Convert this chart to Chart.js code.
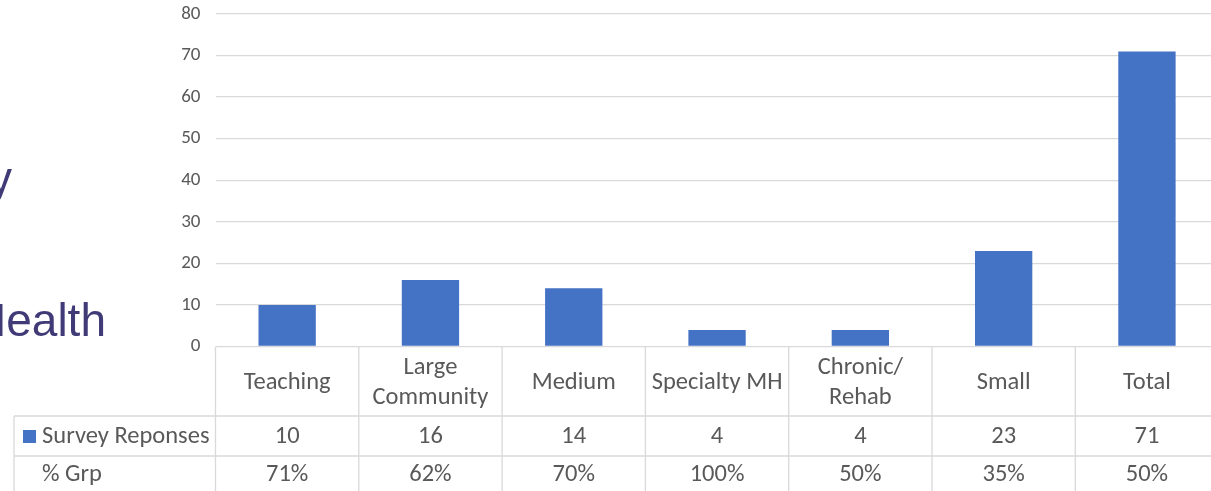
<!DOCTYPE html>
<html>
<head>
<meta charset="utf-8">
<script src="https://cdn.jsdelivr.net/npm/chart.js@4/dist/chart.umd.min.js"></script>
<style>
  html, body { margin: 0; padding: 0; background: #fff; overflow: hidden; }
  #wrap { position: relative; width: 1220px; height: 491px; }
</style>
</head>
<body>
<div id="wrap"><canvas id="surveyChart"></canvas></div>
<script>
const categories = ['Teaching', ['Large', 'Community'], 'Medium', 'Specialty MH', ['Chronic/', 'Rehab'], 'Small', 'Total'];
const surveyResponses = [10, 16, 14, 4, 4, 23, 71];
const pctGroup = ['71%', '62%', '70%', '100%', '50%', '35%', '50%'];
const seriesName = 'Survey Reponses';
const pctRowName = '% Grp';

const textFont = 'Carlito, Calibri, Lato, sans-serif';
const barColor = '#4472C4';
const inkColor = '#595959';
const lineColor = '#d9d9d9';

// bits of slide heading text sitting left of the chart
const slideText = {
  id: 'slideText',
  afterDraw(chart) {
    const ctx = chart.ctx;
    ctx.save();
    ctx.fillStyle = '#403A77';
    ctx.font = '46px "Liberation Sans", Arial, sans-serif';
    ctx.textBaseline = 'alphabetic';
    ctx.textAlign = 'left';
    ctx.fillText('y', -11, 194);
    ctx.fillText('Health', -27, 336);
    ctx.restore();
  }
};

// data table under the plot: category row, values row, percentage row
const dataTable = {
  id: 'dataTable',
  afterDraw(chart) {
    const { ctx, chartArea } = chart;
    const x = chart.scales.x;
    const n = categories.length;
    const colW = (chartArea.right - chartArea.left) / n;
    const top = chartArea.bottom;
    const row1 = 416, row2 = 456, bottom = 500;
    const legendLeft = 14;

    ctx.save();
    ctx.strokeStyle = lineColor;
    ctx.lineWidth = 1.3;
    ctx.beginPath();
    for (let i = 0; i <= n; i++) {
      const xx = chartArea.left + i * colW;
      ctx.moveTo(xx, top);
      ctx.lineTo(xx, bottom);
    }
    ctx.moveTo(legendLeft, row1);
    ctx.lineTo(legendLeft, bottom);
    ctx.moveTo(legendLeft, row1);
    ctx.lineTo(chartArea.right, row1);
    ctx.moveTo(legendLeft, row2);
    ctx.lineTo(chartArea.right, row2);
    ctx.stroke();

    ctx.fillStyle = inkColor;
    ctx.font = '24.5px ' + textFont;
    ctx.textAlign = 'center';
    ctx.textBaseline = 'middle';
    categories.forEach((c, i) => {
      const cx = x.getPixelForValue(i);
      const lines = Array.isArray(c) ? c : [c];
      const lh = 30;
      const y0 = (top + row1) / 2 + 1.5 - (lines.length - 1) * lh / 2;
      lines.forEach((ln, j) => ctx.fillText(ln, cx, y0 + j * lh));
      ctx.fillText(String(surveyResponses[i]), cx, (row1 + row2) / 2 + 0.5);
      ctx.fillText(pctGroup[i], cx, 474.5);
    });

    ctx.textAlign = 'left';
    ctx.fillText(seriesName, 42, (row1 + row2) / 2 + 0.5);
    ctx.fillText(pctRowName, 42, 474.5);
    ctx.fillStyle = barColor;
    ctx.fillRect(23, 430, 13, 13);
    ctx.restore();
  }
};

new Chart(document.getElementById('surveyChart'), {
  type: 'bar',
  data: {
    labels: categories,
    datasets: [{
      label: seriesName,
      data: surveyResponses,
      backgroundColor: barColor,
      borderWidth: 0,
      barPercentage: 0.4,
      categoryPercentage: 1.0
    }]
  },
  options: {
    responsive: true,
    maintainAspectRatio: false,
    animation: false,
    layout: { padding: { top: 14, bottom: 144.5, left: 0, right: 1.4 } },
    plugins: {
      legend: { display: false },
      tooltip: { enabled: false }
    },
    scales: {
      x: { display: false },
      y: {
        min: 0,
        max: 80,
        ticks: { stepSize: 10, padding: 15, color: inkColor, font: { family: textFont, size: 19 } },
        grid: { color: lineColor, lineWidth: 1.3, drawTicks: false },
        border: { display: false },
        afterFit(scale) {
          scale.width = 215.5;
          scale.paddingTop = 0;
          scale.paddingBottom = 0;
        }
      }
    }
  },
  plugins: [slideText, dataTable]
});
</script>
</body>
</html>
